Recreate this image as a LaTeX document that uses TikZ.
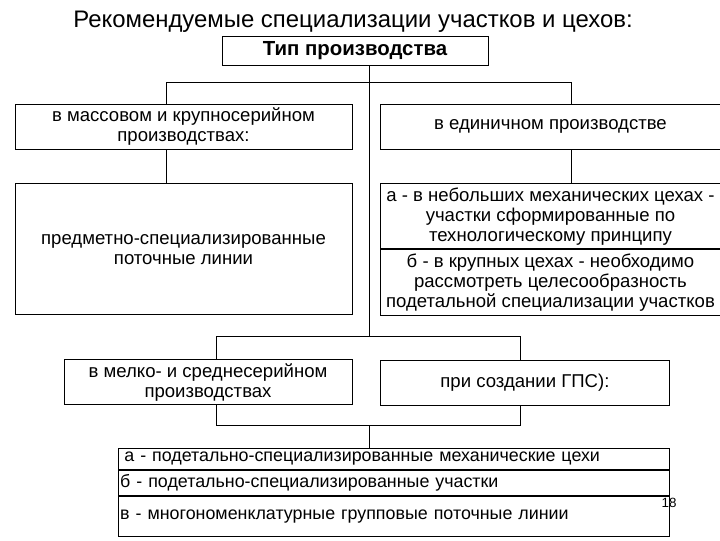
\documentclass[tikz,border=0pt]{standalone}
\usepackage{fontspec}
\setmainfont{Liberation Sans}
\usetikzlibrary{positioning}

\begin{document}
\begin{tikzpicture}[
    x=0.025cm, y=-0.025cm,
    node distance=0.85cm and 0.7cm,
    box/.style={
        draw,
        line width=0.6pt,
        align=center,
        inner sep=1pt,
        font=\fontsize{13.2}{14.4}\selectfont
    },
    row/.style={
        draw,
        line width=0.6pt,
        align=left,
        inner xsep=1pt,
        inner ysep=0pt,
        text width=13.68cm,
        font=\fontsize{12.7}{14}\selectfont
    },
    link/.style={line width=0.6pt}
]
\useasboundingbox (0,0) rectangle (720,540);

\node[font=\fontsize{17}{20}\selectfont] (title) at (353,22) {Рекомендуемые специализации участков и цехов:};
\node[box, font=\fontsize{14.5}{17}\selectfont\bfseries, minimum width=6.65cm, minimum height=0.725cm] (tip) at (355,50.5) {Тип производства};

\node[box, minimum width=8.425cm, minimum height=1.125cm] (mass) at (183.5,126.5) {в массовом и крупносерийном\\производствах:};
\node[box, right=0.7cm of mass, minimum width=8.475cm, minimum height=1.125cm] (unit) {в единичном производстве};

\node[box, below=of mass, minimum width=8.425cm, minimum height=3.275cm] (flow) {предметно-специализированные\\поточные линии};
\node[box, below=of unit, minimum width=8.475cm, minimum height=1.625cm] (unitA) {а - в небольших механических цехах -\\участки сформированные по\\технологическому принципу};
\node[box, below=0pt of unitA, minimum width=8.475cm, minimum height=1.65cm] (unitB) {б - в крупных цехах - необходимо\\рассмотреть целесообразность\\подетальной специализации участков};

\node[box, below left=1.1cm and 0cm of flow.south east, minimum width=7.2cm, minimum height=1.125cm] (small) {в мелко- и среднесерийном\\производствах};
\node[box, below right=1.1cm and 0cm of unitB.south west, minimum width=7.2cm, minimum height=1.125cm] (gps) {при создании ГПС):};

\node[row, below left=1.05cm and 0cm of gps.south east, minimum height=0.525cm] (resA) {\hspace*{3pt}а - подетально-специализированные механические цехи};
\node[row, below=0pt of resA, minimum height=0.625cm] (resB) {б - подетально-специализированные участки};
\node[row, below=0pt of resB, minimum height=1.0cm] (resC) {в - многономенклатурные групповые поточные линии};
\node[font=\fontsize{9.5}{11}\selectfont] (page) at (669,503) {18};

\coordinate (hub) at (369,82);
\coordinate (lefttop) at (166,82);
\coordinate (righttop) at (571,82);
\coordinate (hubmid) at (369,336);
\coordinate (leftmid) at (216,336);
\coordinate (rightmid) at (520,336);
\coordinate (hublow) at (369,425);
\coordinate (leftlow) at (216,425);
\coordinate (rightlow) at (520,425);

\draw[link] (tip.south -| hub) -- (hubmid);
\draw[link] (lefttop |- mass.north) -- (lefttop) -- (righttop) -- (righttop |- unit.north);
\draw[link] (mass.south -| lefttop) -- (flow.north -| lefttop);
\draw[link] (unit.south -| righttop) -- (unitA.north -| righttop);
\draw[link] (leftmid |- small.north) -- (leftmid) -- (rightmid) -- (rightmid |- gps.north);
\draw[link] (small.south -| leftlow) -- (leftlow) -- (rightlow) -- (rightlow |- gps.south);
\draw[link] (hublow) -- (resA.north -| hublow);

\end{tikzpicture}
\end{document}
